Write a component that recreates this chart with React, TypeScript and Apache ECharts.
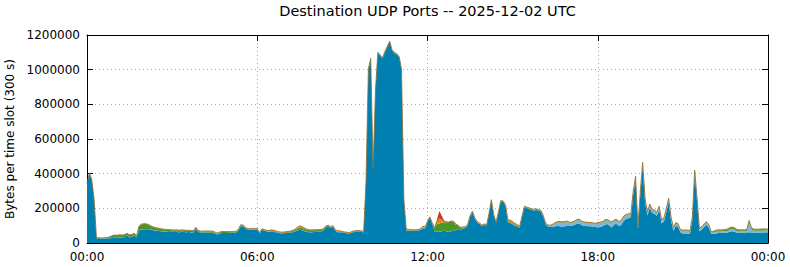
import React, { useEffect, useRef } from "react";
import * as echarts from "echarts";

// ---------- texts ----------
const TITLE = "Destination UDP Ports -- 2025-12-02 UTC";
const Y_NAME = "Bytes per time slot (300 s)";
const FONT = "DejaVu Sans";

// ---------- axes ----------
const SLOT_MINUTES = 5; // 300 s time slots
const SLOTS_PER_TICK = 72; // a labelled tick every 6 h
const Y_MIN = 0;
const Y_MAX = 1200000;
const Y_STEP = 200000;

// ---------- series values (thousands of bytes per 5-minute slot, one row per hour) ----------
const blueK = [
  340, 400, 365, 250, 28, 27, 26, 26, 26, 27, 28, 30,
  30, 30, 31, 30, 34, 44, 32, 36, 46, 30, 70, 78,
  80, 80, 79, 77, 74, 72, 70, 68, 66, 65, 64, 63,
  64, 63, 64, 62, 64, 63, 62, 63, 61, 60, 82, 64,
  60, 60, 60, 61, 60, 60, 56, 49, 54, 57, 57, 57,
  58, 58, 58, 60, 70, 97, 96, 83, 76, 75, 78, 76,
  78, 55, 76, 72, 66, 64, 64, 63, 62, 58, 56, 56,
  57, 58, 60, 62, 66, 72, 76, 74, 68, 64, 62, 62,
  63, 64, 64, 66, 72, 90, 96, 88, 94, 70, 62, 62,
  60, 58, 56, 54, 60, 64, 66, 66, 64, 62, 350, 1000,
  1060, 420, 880, 1095, 1080, 1065, 1100, 1130, 1160, 1110, 1095, 1088,
  1070, 1000, 250, 72, 70, 71, 70, 70, 72, 75, 85, 84,
  120, 145, 110, 66, 66, 64, 68, 70, 68, 66, 68, 70,
  75, 76, 74, 84, 86, 100, 150, 178, 140, 118, 110, 98,
  105, 100, 165, 245, 160, 115, 175, 240, 236, 210, 120, 116,
  108, 100, 95, 90, 150, 205, 200, 196, 190, 188, 190, 186,
  180, 150, 105, 95, 92, 92, 96, 98, 96, 94, 96, 98,
  98, 100, 104, 110, 112, 105, 100, 98, 97, 96, 94, 92,
  90, 92, 96, 106, 110, 100, 90, 108, 110, 98, 106, 128,
  138, 143, 148, 278, 363, 80, 278, 443, 238, 158, 203, 173,
  169, 157, 191, 114, 124, 179, 237, 129, 71, 99, 92, 60,
  55, 55, 55, 52, 132, 400, 242, 68, 78, 93, 106, 88,
  52, 52, 55, 57, 57, 57, 58, 60, 66, 68, 64, 59,
  60, 60, 60, 60, 62, 60, 60, 60, 60, 61, 61, 62, 60,
];

const lightBlueK = [
  1, 1, 1, 1, 1, 1, 1, 1, 1, 1, 1, 1,
  1, 1, 1, 1, 1, 1, 1, 1, 1, 1, 1, 1,
  1, 1, 1, 1, 1, 1, 1, 1, 1, 1, 1, 1,
  1, 1, 1, 1, 1, 1, 1, 1, 1, 1, 1, 1,
  1, 1, 1, 1, 1, 1, 1, 1, 1, 1, 1, 1,
  1, 1, 1, 1, 1, 1, 1, 1, 1, 1, 1, 1,
  1, 1, 1, 1, 1, 1, 1, 1, 1, 1, 1, 1,
  1, 1, 1, 1, 1, 1, 1, 1, 1, 1, 1, 1,
  1, 1, 1, 1, 1, 1, 1, 1, 1, 1, 1, 1,
  1, 1, 1, 1, 1, 1, 1, 1, 1, 1, 1, 1,
  1, 1, 1, 1, 1, 1, 1, 1, 1, 1, 1, 1,
  1, 1, 1, 1, 1, 1, 1, 1, 1, 1, 1, 1,
  1, 1, 1, 1, 1, 1, 1, 1, 1, 1, 1, 1,
  1, 1, 1, 1, 1, 1, 1, 1, 1, 1, 1, 1,
  1, 1, 1, 1, 1, 1, 1, 1, 1, 1, 1, 1,
  1, 1, 1, 1, 1, 1, 1, 1, 1, 1, 1, 1,
  1, 1, 2, 3, 5, 10, 16, 20, 22, 22, 22, 22,
  16, 15, 15, 18, 20, 18, 17, 16, 16, 16, 16, 16,
  22, 22, 22, 22, 20, 22, 26, 20, 19, 20, 22, 22,
  20, 18, 16, 15, 15, 12, 15, 15, 15, 15, 15, 15,
  15, 15, 15, 15, 15, 15, 15, 15, 13, 13, 13, 10,
  15, 15, 15, 13, 13, 15, 13, 12, 12, 12, 12, 12,
  8, 9, 10, 10, 10, 10, 10, 11, 13, 13, 12, 10,
  8, 8, 8, 10, 60, 18, 10, 10, 10, 10, 10, 10, 10,
];

const greenK = [
  1, 1, 1, 1, 1, 1, 1, 2, 3, 4, 8, 12,
  14, 14, 14, 14, 13, 10, 13, 12, 8, 10, 24, 28,
  28, 28, 25, 19, 16, 14, 14, 12, 12, 11, 11, 11,
  9, 9, 9, 9, 9, 9, 8, 8, 8, 8, 6, 6,
  5, 5, 5, 5, 5, 5, 4, 4, 5, 5, 5, 5,
  4, 4, 4, 4, 4, 4, 4, 3, 3, 3, 2, 2,
  2, 2, 2, 2, 3, 3, 4, 4, 3, 3, 3, 3,
  4, 4, 5, 6, 8, 10, 12, 12, 12, 11, 10, 10,
  10, 10, 10, 9, 8, 5, 3, 3, 3, 3, 3, 3,
  3, 3, 3, 3, 3, 3, 3, 3, 3, 3, 3, 3,
  2, 2, 2, 2, 2, 2, 2, 2, 2, 2, 2, 2,
  2, 2, 2, 2, 2, 2, 2, 2, 2, 2, 3, 3,
  3, 3, 3, 18, 44, 48, 48, 49, 50, 52, 56, 52,
  30, 22, 12, 5, 4, 4, 3, 2, 2, 2, 2, 2,
  2, 2, 2, 2, 2, 2, 2, 2, 2, 4, 6, 7,
  7, 6, 5, 4, 3, 3, 3, 3, 3, 3, 3, 3,
  3, 3, 3, 3, 3, 3, 3, 3, 3, 3, 3, 3,
  3, 3, 3, 3, 3, 3, 3, 3, 3, 3, 3, 3,
  3, 3, 3, 3, 3, 3, 3, 3, 3, 3, 3, 3,
  4, 4, 4, 4, 4, 4, 4, 4, 4, 4, 4, 4,
  3, 3, 3, 3, 3, 3, 3, 3, 3, 3, 3, 3,
  3, 3, 3, 3, 3, 3, 3, 3, 3, 3, 3, 3,
  4, 5, 7, 7, 7, 7, 8, 9, 9, 9, 8, 7,
  6, 6, 6, 6, 6, 8, 8, 8, 8, 8, 8, 8, 8,
];

const orangeK = [
  1, 1, 1, 1, 1, 1, 1, 1, 1, 1, 1, 1,
  1, 1, 1, 1, 1, 1, 1, 1, 1, 1, 2, 2,
  2, 2, 2, 2, 2, 2, 2, 2, 2, 2, 2, 2,
  2, 2, 2, 2, 2, 2, 2, 2, 2, 2, 2, 2,
  3, 3, 3, 3, 3, 3, 3, 3, 3, 3, 3, 3,
  3, 3, 3, 3, 3, 3, 3, 3, 3, 3, 3, 3,
  3, 3, 3, 3, 3, 4, 7, 6, 3, 3, 3, 3,
  3, 3, 3, 4, 5, 8, 10, 8, 5, 3, 3, 3,
  2, 2, 2, 2, 2, 2, 2, 2, 2, 2, 5, 4,
  2, 2, 2, 2, 2, 2, 2, 2, 2, 2, 2, 2,
  2, 2, 2, 2, 2, 2, 2, 2, 2, 2, 2, 2,
  3, 3, 3, 6, 5, 4, 3, 3, 3, 4, 7, 6,
  2, 2, 2, 3, 15, 32, 20, 6, 3, 2, 2, 2,
  3, 3, 3, 3, 3, 3, 3, 3, 3, 3, 3, 3,
  2, 2, 2, 2, 2, 2, 2, 2, 3, 5, 7, 8,
  8, 6, 5, 3, 3, 3, 3, 3, 3, 3, 3, 3,
  3, 3, 3, 3, 3, 3, 3, 3, 3, 3, 3, 3,
  3, 3, 3, 3, 3, 3, 3, 3, 3, 3, 3, 3,
  3, 3, 3, 3, 3, 3, 3, 3, 3, 3, 3, 3,
  3, 3, 3, 3, 3, 3, 3, 3, 3, 3, 3, 3,
  3, 3, 3, 3, 3, 3, 3, 3, 3, 3, 3, 3,
  2, 2, 2, 2, 2, 2, 2, 2, 2, 2, 2, 2,
  2, 2, 2, 2, 2, 2, 2, 2, 2, 2, 2, 2,
  2, 2, 2, 2, 2, 2, 2, 2, 2, 2, 2, 2, 2,
];

const redK = [
  0, 0, 0, 0, 0, 0, 0, 0, 0, 0, 0, 0,
  0, 0, 0, 0, 0, 0, 0, 0, 0, 0, 0, 0,
  0, 0, 0, 0, 0, 0, 0, 0, 0, 0, 0, 0,
  0, 0, 0, 0, 0, 0, 0, 0, 0, 0, 0, 0,
  0, 0, 0, 0, 0, 0, 0, 0, 0, 0, 0, 0,
  0, 0, 0, 0, 0, 0, 0, 0, 0, 0, 0, 0,
  0, 0, 0, 0, 0, 0, 0, 0, 0, 0, 0, 0,
  0, 0, 0, 0, 0, 0, 0, 0, 0, 0, 0, 0,
  0, 0, 0, 0, 0, 0, 0, 0, 0, 0, 0, 0,
  0, 0, 0, 0, 0, 0, 0, 0, 0, 0, 0, 0,
  0, 0, 0, 0, 0, 0, 0, 0, 0, 0, 0, 0,
  0, 0, 0, 0, 0, 0, 0, 0, 0, 0, 0, 0,
  0, 0, 0, 0, 8, 40, 20, 4, 0, 0, 0, 0,
  0, 0, 0, 0, 0, 0, 0, 0, 0, 0, 0, 0,
  0, 0, 0, 0, 0, 0, 0, 0, 0, 0, 0, 0,
  0, 0, 0, 0, 0, 0, 0, 0, 0, 0, 0, 0,
  0, 0, 0, 0, 0, 0, 0, 0, 0, 0, 0, 0,
  0, 0, 0, 0, 0, 0, 0, 0, 0, 0, 0, 0,
  0, 0, 0, 0, 0, 0, 0, 0, 0, 0, 0, 0,
  0, 0, 0, 0, 0, 0, 0, 0, 0, 0, 0, 0,
  0, 0, 0, 0, 0, 0, 0, 0, 0, 0, 0, 0,
  0, 0, 0, 0, 0, 0, 0, 0, 0, 0, 0, 0,
  0, 0, 0, 0, 0, 0, 0, 0, 0, 0, 0, 0,
  0, 0, 0, 0, 0, 0, 0, 0, 0, 0, 0, 0, 0,
];

// stack order, bottom to top
const SERIES = [
  { name: "blue", values: blueK, color: "#0080b1", line: 0, lineColor: "#0080b1" },
  { name: "light blue", values: lightBlueK, color: "#7fb6d6", line: 0, lineColor: "#7fb6d6" },
  { name: "green", values: greenK, color: "#4a9729", line: 0, lineColor: "#4a9729" },
  { name: "orange", values: orangeK, color: "#f0861a", line: 0.8, lineColor: "#8a6a30" },
  { name: "red", values: redK, color: "#c9341b", line: 0, lineColor: "#c9341b" },
];

const pad2 = (n: number) => (n < 10 ? "0" + n : String(n));
const slotLabel = (i: number) => {
  const m = i * SLOT_MINUTES;
  return pad2(Math.floor(m / 60) % 24) + ":" + pad2(m % 60);
};
const CATEGORIES = blueK.map((_, i) => slotLabel(i));

export default function App() {
  const ref = useRef<HTMLDivElement>(null);

  useEffect(() => {
    if (!ref.current) return;
    const chart = echarts.init(ref.current, null, { renderer: "svg" });

    const axisText = { color: "#000", fontSize: 12, fontFamily: FONT };
    const everyTick = (i: number) => i % SLOTS_PER_TICK === 0;
    const dotted = {
      show: true,
      interval: (i: number) => everyTick(i) && i !== 0 && i !== CATEGORIES.length - 1,
      lineStyle: { color: "#a8a8a8", width: 1, type: [1, 3] as any },
    };
    const yDotted = { show: true, lineStyle: { color: "#a8a8a8", width: 1, type: [1, 3] as any } };
    const blackLine = { show: true, onZero: false, lineStyle: { color: "#000", width: 1 } };
    const innerTick = { show: true, inside: true, length: 6, lineStyle: { color: "#000", width: 1 } };
    const xTick = { ...innerTick, interval: everyTick, alignWithLabel: true };

    const xBase = { type: "category" as const, data: CATEGORIES, boundaryGap: false };
    const yBase = { type: "value" as const, min: Y_MIN, max: Y_MAX, interval: Y_STEP };

    chart.setOption({
      animation: false,
      backgroundColor: "#fff",
      grid: { left: 87, right: 22, top: 35, bottom: 24, show: false, outerBoundsMode: "none", containLabel: false },
      graphic: [
        {
          type: "text",
          x: 427.5,
          y: 11,
          style: {
            text: TITLE,
            fill: "#000",
            fontSize: 14.5,
            fontFamily: FONT,
            align: "center",
            verticalAlign: "middle",
          },
        },
      ],
      xAxis: [
        {
          ...xBase,
          position: "bottom",
          axisLine: blackLine,
          axisTick: xTick,
          axisLabel: { ...axisText, margin: 8, interval: everyTick, showMinLabel: true, showMaxLabel: true },
          splitLine: dotted,
        },
        {
          ...xBase,
          position: "top",
          axisLine: blackLine,
          axisTick: xTick,
          axisLabel: { show: false },
          splitLine: { show: false },
        },
      ],
      yAxis: [
        {
          ...yBase,
          position: "left",
          name: Y_NAME,
          nameLocation: "middle",
          nameGap: 65,
          nameRotate: 90,
          nameTextStyle: { ...axisText },
          axisLine: blackLine,
          axisTick: innerTick,
          axisLabel: { ...axisText, margin: 7, formatter: (v: number) => String(v) },
          splitLine: yDotted,
        },
        {
          ...yBase,
          position: "right",
          axisLine: blackLine,
          axisTick: innerTick,
          axisLabel: { show: false },
          splitLine: { show: false },
        },
      ],
      series: SERIES.map((s) => ({
        name: s.name,
        type: "line",
        stack: "total",
        xAxisIndex: 0,
        yAxisIndex: 0,
        symbol: "none",
        showSymbol: false,
        smooth: false,
        lineStyle: { width: s.line, color: s.lineColor },
        areaStyle: { color: s.color, opacity: 1 },
        itemStyle: { color: s.color },
        emphasis: { disabled: true },
        data: s.values.map((v) => v * 1000),
      })),
    });

    return () => chart.dispose();
  }, []);

  return (
    <div
      ref={ref}
      style={{ position: "absolute", left: 0, top: 0, width: 790, height: 267, background: "#fff" }}
    />
  );
}
